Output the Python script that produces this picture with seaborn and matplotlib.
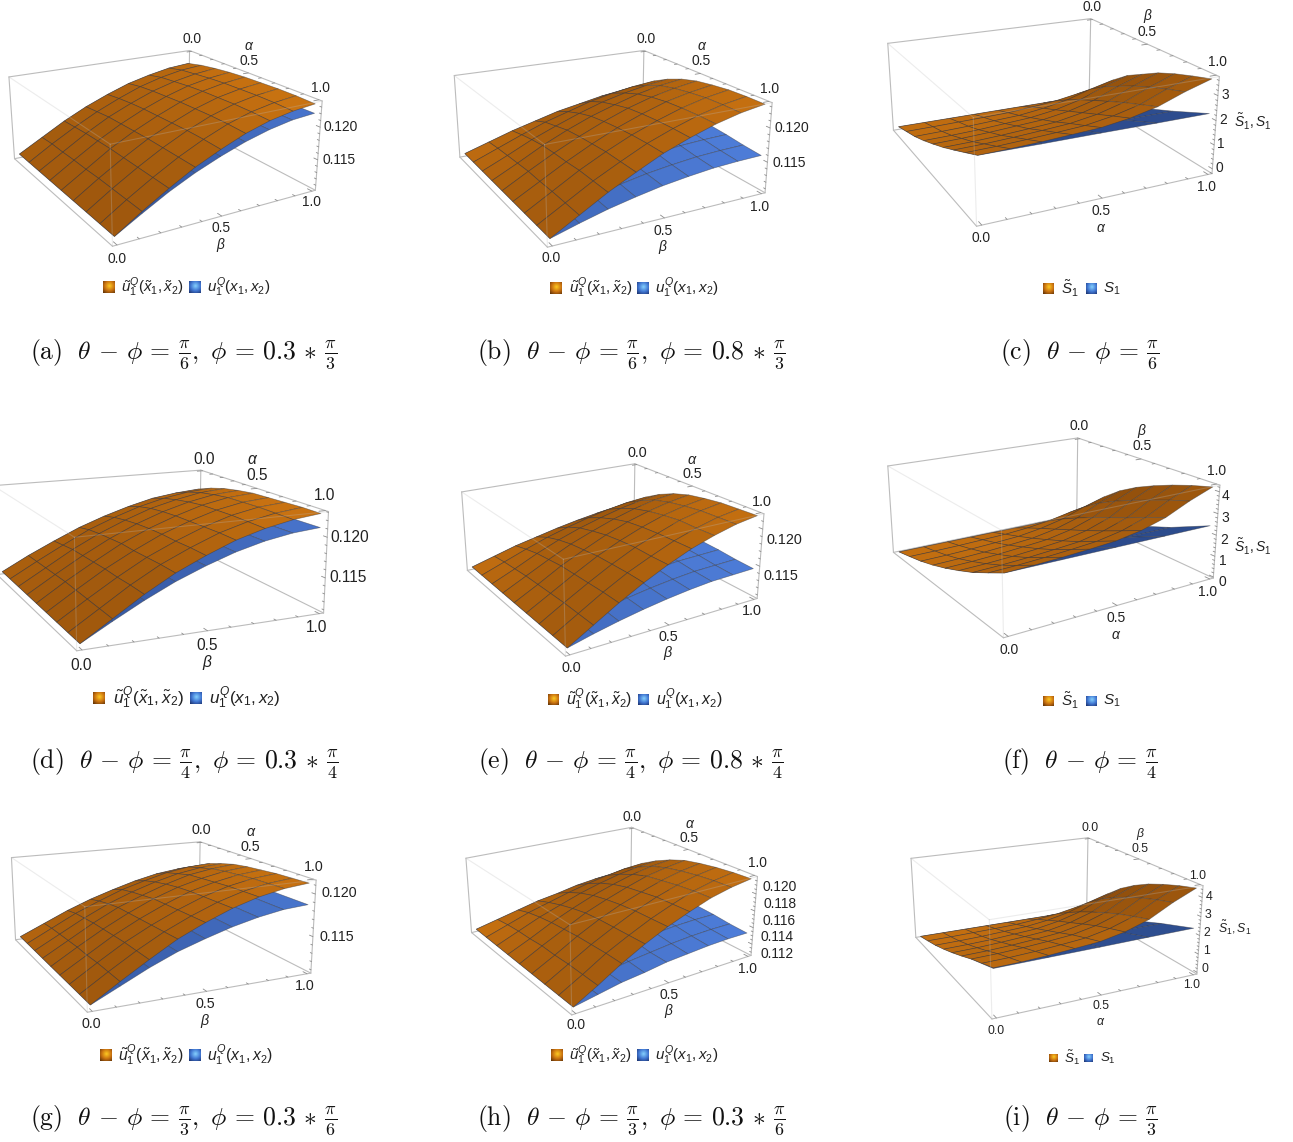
import numpy as np
import matplotlib
matplotlib.use("Agg")
import matplotlib.pyplot as plt
import seaborn as sns

W, H = 1293, 1142

# grid of the two parameters
GRID9 = [0, 0.125, 0.25, 0.375, 0.5, 0.625, 0.75, 0.875, 1]
GRID5 = [0, 0.25, 0.5, 0.75, 1]
GRID3 = [0, 0.5, 1]

# payoffs in units of 1e-4, one row per value of beta
A_ORANGE = [
    [1111, 1111, 1111, 1111, 1111, 1111, 1111, 1111, 1111],
    [1132, 1134, 1134, 1135, 1135, 1136, 1136, 1136, 1136],
    [1153, 1155, 1157, 1158, 1159, 1159, 1159, 1159, 1159],
    [1171, 1174, 1177, 1178, 1179, 1180, 1180, 1180, 1180],
    [1186, 1190, 1193, 1195, 1196, 1197, 1198, 1198, 1197],
    [1199, 1204, 1207, 1209, 1211, 1212, 1213, 1213, 1212],
    [1208, 1214, 1217, 1220, 1222, 1223, 1224, 1224, 1223],
    [1215, 1221, 1224, 1227, 1229, 1230, 1231, 1231, 1230],
    [1218, 1224, 1228, 1231, 1233, 1234, 1235, 1235, 1234],
]
A_BLUE = [
    [1111, 1111, 1111], [1132, 1133, 1133], [1153, 1153, 1154],
    [1171, 1171, 1172], [1186, 1187, 1187], [1199, 1200, 1200],
    [1208, 1209, 1210], [1215, 1216, 1217], [1218, 1219, 1220],
]
B_ORANGE = [
    [1111, 1111, 1111, 1111, 1111, 1111, 1111, 1111, 1111],
    [1123, 1126, 1128, 1130, 1132, 1132, 1133, 1133, 1133],
    [1135, 1141, 1146, 1150, 1152, 1153, 1155, 1155, 1155],
    [1145, 1155, 1161, 1167, 1170, 1172, 1174, 1174, 1174],
    [1155, 1166, 1175, 1182, 1186, 1189, 1191, 1192, 1192],
    [1162, 1177, 1187, 1194, 1200, 1203, 1205, 1206, 1206],
    [1169, 1185, 1196, 1205, 1211, 1215, 1217, 1218, 1218],
    [1174, 1191, 1203, 1213, 1219, 1223, 1226, 1227, 1227],
    [1177, 1195, 1208, 1218, 1225, 1229, 1232, 1233, 1233],
]
B_BLUE = [
    [1111, 1111, 1111, 1111, 1111, 1111, 1111, 1111, 1111],
    [1123, 1126, 1125, 1125, 1124, 1124, 1123, 1123, 1122],
    [1135, 1139, 1138, 1137, 1136, 1135, 1134, 1133, 1132],
    [1145, 1150, 1149, 1148, 1146, 1145, 1143, 1142, 1140],
    [1155, 1159, 1158, 1156, 1154, 1152, 1151, 1149, 1147],
    [1162, 1166, 1164, 1163, 1160, 1158, 1157, 1154, 1152],
    [1169, 1171, 1169, 1167, 1165, 1163, 1161, 1158, 1156],
    [1174, 1174, 1172, 1170, 1167, 1165, 1163, 1160, 1158],
    [1177, 1175, 1173, 1171, 1168, 1166, 1164, 1161, 1159],
]
D_ORANGE = [
    [1111, 1111, 1111, 1111, 1111, 1111, 1111, 1111, 1111],
    [1130, 1131, 1132, 1133, 1134, 1134, 1134, 1134, 1134],
    [1147, 1150, 1153, 1154, 1155, 1156, 1156, 1157, 1157],
    [1163, 1168, 1171, 1173, 1175, 1175, 1176, 1177, 1177],
    [1176, 1182, 1186, 1189, 1191, 1192, 1192, 1193, 1193],
    [1187, 1194, 1199, 1202, 1204, 1205, 1206, 1207, 1207],
    [1196, 1203, 1208, 1212, 1215, 1216, 1217, 1217, 1217],
    [1201, 1209, 1215, 1219, 1222, 1223, 1224, 1224, 1224],
    [1204, 1212, 1218, 1222, 1225, 1226, 1227, 1228, 1228],
]
D_BLUE = [
    [1111, 1111, 1111], [1130, 1130, 1131], [1147, 1149, 1150],
    [1163, 1165, 1167], [1176, 1179, 1181], [1187, 1191, 1193],
    [1196, 1199, 1202], [1201, 1205, 1208], [1204, 1208, 1211],
]
E_ORANGE = [
    [1111, 1111, 1111, 1111, 1111, 1111, 1111, 1111, 1111],
    [1120, 1123, 1125, 1127, 1128, 1129, 1130, 1130, 1130],
    [1129, 1135, 1140, 1143, 1146, 1147, 1148, 1149, 1149],
    [1136, 1146, 1153, 1158, 1161, 1164, 1165, 1166, 1166],
    [1143, 1155, 1164, 1170, 1175, 1178, 1180, 1180, 1181],
    [1149, 1163, 1173, 1181, 1187, 1190, 1192, 1193, 1194],
    [1154, 1170, 1181, 1190, 1196, 1200, 1203, 1203, 1204],
    [1158, 1175, 1187, 1197, 1203, 1207, 1210, 1211, 1212],
    [1160, 1178, 1191, 1201, 1208, 1212, 1215, 1216, 1217],
]
E_BLUE = [
    [1111, 1111, 1111, 1111, 1111, 1111, 1111, 1111, 1111],
    [1120, 1122, 1121, 1121, 1120, 1120, 1120, 1119, 1119],
    [1129, 1132, 1131, 1130, 1129, 1128, 1128, 1127, 1126],
    [1136, 1140, 1138, 1137, 1136, 1135, 1134, 1133, 1132],
    [1143, 1146, 1145, 1143, 1142, 1140, 1140, 1138, 1137],
    [1149, 1151, 1150, 1148, 1146, 1145, 1144, 1142, 1141],
    [1154, 1155, 1153, 1151, 1150, 1148, 1147, 1145, 1144],
    [1158, 1157, 1155, 1153, 1151, 1149, 1148, 1146, 1145],
    [1160, 1158, 1156, 1154, 1152, 1150, 1149, 1147, 1146],
]
G_ORANGE = [
    [1111, 1111, 1111, 1111, 1111, 1111, 1111, 1111, 1111],
    [1125, 1127, 1128, 1129, 1130, 1130, 1131, 1131, 1131],
    [1139, 1143, 1145, 1147, 1148, 1149, 1150, 1150, 1150],
    [1151, 1156, 1160, 1163, 1164, 1165, 1166, 1167, 1168],
    [1161, 1168, 1172, 1175, 1178, 1179, 1180, 1181, 1182],
    [1170, 1177, 1182, 1186, 1189, 1191, 1192, 1193, 1194],
    [1177, 1185, 1190, 1195, 1197, 1199, 1201, 1202, 1203],
    [1181, 1190, 1195, 1200, 1203, 1205, 1207, 1208, 1209],
    [1183, 1192, 1198, 1203, 1206, 1208, 1210, 1211, 1212],
]
G_BLUE = [
    [1111, 1111, 1111], [1125, 1126, 1126], [1139, 1140, 1141],
    [1151, 1153, 1154], [1161, 1164, 1164], [1170, 1173, 1173],
    [1177, 1179, 1180], [1181, 1184, 1185], [1183, 1186, 1187],
]
H_ORANGE = [
    [1111, 1111, 1111, 1111, 1111, 1111, 1111, 1111, 1111],
    [1117, 1120, 1122, 1123, 1125, 1125, 1126, 1126, 1126],
    [1123, 1129, 1133, 1136, 1138, 1140, 1141, 1142, 1142],
    [1129, 1136, 1142, 1147, 1151, 1153, 1154, 1155, 1156],
    [1133, 1143, 1151, 1157, 1161, 1164, 1166, 1167, 1168],
    [1138, 1149, 1158, 1165, 1170, 1173, 1176, 1177, 1178],
    [1141, 1154, 1164, 1172, 1178, 1181, 1184, 1186, 1187],
    [1143, 1158, 1168, 1177, 1183, 1187, 1190, 1192, 1193],
    [1145, 1160, 1171, 1180, 1187, 1191, 1194, 1196, 1197],
]
H_BLUE = [
    [1111, 1111, 1111, 1111, 1111, 1111, 1111, 1111, 1111],
    [1117, 1118, 1118, 1118, 1117, 1117, 1117, 1116, 1116],
    [1123, 1125, 1125, 1124, 1123, 1122, 1122, 1121, 1121],
    [1129, 1131, 1130, 1129, 1128, 1127, 1126, 1125, 1124],
    [1133, 1135, 1134, 1133, 1132, 1131, 1130, 1128, 1128],
    [1138, 1139, 1138, 1136, 1135, 1133, 1133, 1131, 1130],
    [1141, 1141, 1140, 1138, 1137, 1135, 1135, 1133, 1132],
    [1143, 1142, 1141, 1139, 1138, 1136, 1136, 1134, 1133],
    [1145, 1143, 1142, 1140, 1139, 1137, 1136, 1134, 1133],
]

# entropies, one row per value of alpha, one column per value of beta
C_ORANGE = [
    [0, 0.20, 0.40, 0.65, 0.95, 1.25, 1.60, 1.95, 2.31],
    [0, 0.21, 0.42, 0.67, 0.97, 1.27, 1.62, 1.97, 2.33],
    [0, 0.23, 0.45, 0.71, 1.02, 1.32, 1.67, 2.02, 2.37],
    [0, 0.25, 0.50, 0.78, 1.09, 1.39, 1.74, 2.08, 2.43],
    [0, 0.28, 0.55, 0.85, 1.16, 1.47, 1.82, 2.15, 2.49],
    [0, 0.36, 0.69, 1.01, 1.34, 1.67, 2.00, 2.33, 2.65],
    [0, 0.47, 0.90, 1.28, 1.63, 1.97, 2.30, 2.60, 2.90],
    [0, 0.65, 1.23, 1.70, 2.08, 2.45, 2.76, 3.04, 3.30],
    [0, 0.80, 1.50, 2.05, 2.45, 2.85, 3.15, 3.40, 3.63],
]
C_BLUE = [
    [0, 0.40, 0.95, 1.60, 2.31], [0, 0.40, 0.94, 1.59, 2.29],
    [0, 0.40, 0.94, 1.58, 2.28], [0, 0.39, 0.93, 1.57, 2.26],
    [0, 0.39, 0.92, 1.56, 2.25],
]
F_ORANGE = [
    [0, 0.18, 0.38, 0.62, 0.92, 1.25, 1.62, 2.05, 2.50],
    [0, 0.19, 0.40, 0.65, 0.95, 1.28, 1.65, 2.08, 2.53],
    [0, 0.21, 0.44, 0.70, 1.01, 1.34, 1.71, 2.14, 2.58],
    [0, 0.25, 0.50, 0.78, 1.10, 1.43, 1.80, 2.22, 2.65],
    [0, 0.29, 0.57, 0.87, 1.20, 1.54, 1.90, 2.32, 2.74],
    [0, 0.38, 0.74, 1.08, 1.43, 1.78, 2.15, 2.54, 2.94],
    [0, 0.53, 1.00, 1.42, 1.81, 2.17, 2.53, 2.91, 3.27],
    [0, 0.76, 1.41, 1.96, 2.41, 2.79, 3.14, 3.48, 3.78],
    [0, 0.95, 1.75, 2.40, 2.90, 3.30, 3.65, 3.95, 4.20],
]
F_BLUE = [
    [0, 0.38, 0.92, 1.62, 2.50], [0, 0.38, 0.92, 1.61, 2.48],
    [0, 0.37, 0.91, 1.60, 2.46], [0, 0.37, 0.91, 1.59, 2.44],
    [0, 0.37, 0.90, 1.58, 2.42],
]
I_ORANGE = [
    [0, 0.20, 0.42, 0.68, 0.98, 1.30, 1.65, 1.95, 2.25],
    [0, 0.21, 0.44, 0.71, 1.01, 1.33, 1.68, 1.98, 2.28],
    [0, 0.24, 0.48, 0.76, 1.08, 1.40, 1.75, 2.05, 2.35],
    [0, 0.27, 0.55, 0.85, 1.17, 1.50, 1.85, 2.15, 2.45],
    [0, 0.31, 0.62, 0.94, 1.28, 1.62, 1.97, 2.27, 2.56],
    [0, 0.41, 0.79, 1.17, 1.53, 1.89, 2.24, 2.54, 2.82],
    [0, 0.56, 1.06, 1.52, 1.93, 2.31, 2.66, 2.96, 3.24],
    [0, 0.80, 1.49, 2.08, 2.57, 2.99, 3.34, 3.64, 3.90],
    [0, 1.00, 1.85, 2.55, 3.10, 3.55, 3.90, 4.20, 4.45],
]
I_BLUE = [
    [0, 0.42, 0.98, 1.65, 2.22], [0, 0.42, 0.99, 1.66, 2.25],
    [0, 0.43, 1.00, 1.68, 2.28], [0, 0.43, 1.01, 1.70, 2.32],
    [0, 0.44, 1.02, 1.72, 2.35],
]

U_NAMES = [r"$\tilde{u}_1^{Q}(\tilde{x}_1,\tilde{x}_2)$", r"$u_1^{Q}(x_1,x_2)$"]
S_NAMES = [r"$\tilde{S}_1$", r"$S_1$"]
CAPTIONS = {
    "a": r"$\mathrm{(a)}\ \ \theta\,-\,\phi\,=\,\frac{\pi}{6},\ \phi\,=\,0.3\,*\,\frac{\pi}{3}$",
    "b": r"$\mathrm{(b)}\ \ \theta\,-\,\phi\,=\,\frac{\pi}{6},\ \phi\,=\,0.8\,*\,\frac{\pi}{3}$",
    "c": r"$\mathrm{(c)}\ \ \theta\,-\,\phi\,=\,\frac{\pi}{6}$",
    "d": r"$\mathrm{(d)}\ \ \theta\,-\,\phi\,=\,\frac{\pi}{4},\ \phi\,=\,0.3\,*\,\frac{\pi}{4}$",
    "e": r"$\mathrm{(e)}\ \ \theta\,-\,\phi\,=\,\frac{\pi}{4},\ \phi\,=\,0.8\,*\,\frac{\pi}{4}$",
    "f": r"$\mathrm{(f)}\ \ \theta\,-\,\phi\,=\,\frac{\pi}{4}$",
    "g": r"$\mathrm{(g)}\ \ \theta\,-\,\phi\,=\,\frac{\pi}{3},\ \phi\,=\,0.3\,*\,\frac{\pi}{6}$",
    "h": r"$\mathrm{(h)}\ \ \theta\,-\,\phi\,=\,\frac{\pi}{3},\ \phi\,=\,0.3\,*\,\frac{\pi}{6}$",
    "i": r"$\mathrm{(i)}\ \ \theta\,-\,\phi\,=\,\frac{\pi}{3}$",
}

# view = elev, azim, focal length, x and y box aspect; rect = left, bottom, side in pixels
PANELS = [
    dict(key="a", orange=A_ORANGE, blue=A_BLUE, names=U_NAMES, view=(19.90, -30.67, 0.443, 2.498, 2.441),
         rect=(-6.8, 296.2, 320.0), zlim=(1102, 1239), zmajor=[1150, 1200], zstep=10, size=9.9,
         ticks=[("0.0", 192, 39), (r"$\alpha$", 249, 46), ("0.5", 249, 61), ("1.0", 320, 88), ("0.120", 341, 127),
                ("0.115", 339, 160), ("0.0", 117, 259), ("0.5", 221, 228), (r"$\beta$", 221, 245), ("1.0", 311, 202)],
         legend=(287, 103, 121, 189, 207), swatch=11.5, caption=(184, 354)),
    dict(key="b", orange=B_ORANGE, blue=B_BLUE, names=U_NAMES, view=(19.86, -28.29, 0.431, 2.512, 2.520),
         rect=(436.2, 299.7, 326.6), zlim=(1104, 1236), zmajor=[1150, 1200], zstep=10, size=10,
         ticks=[("0.0", 646, 39), (r"$\alpha$", 702, 46), ("0.5", 701, 61), ("1.0", 770, 89), ("0.120", 792, 128),
                ("0.115", 789, 163), ("0.0", 551, 258), ("0.5", 663, 231), (r"$\beta$", 663, 247), ("1.0", 760, 207)],
         legend=(288, 550, 569, 637, 655), swatch=11.5, caption=(631, 354)),
    dict(key="c", orange=C_ORANGE, blue=C_BLUE, names=S_NAMES, view=(19.94, -25.96, 0.448, 2.490, 2.480),
         rect=(865.3, 283.2, 345.8), zlim=(-0.2, 3.75), zmajor=[0, 1, 2, 3], zstep=0.2, size=9.9,
         ticks=[("0.0", 1092, 7), (r"$\beta$", 1148, 16), ("0.5", 1147, 32), ("1.0", 1217, 62), ("3", 1225, 95),
                ("2", 1223, 120), ("1", 1221, 144), ("0", 1219, 168), (r"$\tilde{S}_1,S_1$", 1253, 122),
                (r"$\alpha$", 1101, 228), ("0.5", 1101, 211), ("1.0", 1206, 187), ("0.0", 981, 238)],
         legend=(289, 1043, 1061, 1086, 1103), swatch=11, caption=(1080, 354)),
    dict(key="d", orange=D_ORANGE, blue=D_BLUE, names=U_NAMES, view=(14.06, -24.09, 0.474, 2.616, 2.524),
         rect=(-34.6, 729.2, 357.4), zlim=(1106, 1231), zmajor=[1150, 1200], zstep=10, size=11.2,
         ticks=[("0.0", 204, 460), (r"$\alpha$", 253, 460), ("0.5", 257, 475), ("1.0", 325, 496), ("0.120", 350, 537),
                ("0.115", 348, 578), ("0.0", 81, 665), ("0.5", 207, 645), (r"$\beta$", 207, 662), ("1.0", 317, 627)],
         legend=(698, 93, 113, 190, 209), swatch=12, caption=(184, 764)),
    dict(key="e", orange=E_ORANGE, blue=E_BLUE, names=U_NAMES, view=(20.91, -31.89, 0.445, 2.474, 2.450),
         rect=(448.5, 701.4, 306.6), zlim=(1105, 1220), zmajor=[1150, 1200], zstep=10, size=10.4,
         ticks=[("0.0", 637, 453), (r"$\alpha$", 692, 460), ("0.5", 692, 474), ("1.0", 762, 502), ("0.120", 784, 540),
                ("0.115", 781, 576), ("0.0", 571, 668), ("0.5", 668, 637), (r"$\beta$", 668, 653), ("1.0", 752, 611)],
         legend=(699, 548, 566, 638, 656), swatch=11, caption=(631, 764)),
    dict(key="f", orange=F_ORANGE, blue=F_BLUE, names=S_NAMES, view=(18.76, -32.68, 0.446, 2.481, 2.497),
         rect=(874.5, 693.2, 335.8), zlim=(-0.05, 4.3), zmajor=[0, 1, 2, 3, 4], zstep=0.2, size=10,
         ticks=[("0.0", 1079, 426), (r"$\beta$", 1142, 431), ("0.5", 1142, 446), ("1.0", 1217, 471), ("4", 1226, 496),
                ("3", 1225, 518), ("2", 1224, 540), ("1", 1223, 561), ("0", 1222, 582), (r"$\tilde{S}_1,S_1$", 1253, 547),
                ("0.5", 1116, 618), (r"$\alpha$", 1116, 635), ("1.0", 1208, 592), ("0.0", 1009, 650)],
         legend=(701, 1043, 1061, 1086, 1103), swatch=11, caption=(1080, 764)),
    dict(key="g", orange=G_ORANGE, blue=G_BLUE, names=U_NAMES, view=(15.24, -25.08, 0.443, 2.468, 2.492),
         rect=(-10.9, 1076.7, 320.0), zlim=(1106, 1216), zmajor=[1150, 1200], zstep=10, size=10.3,
         ticks=[("0.0", 201, 830), (r"$\alpha$", 251, 832), ("0.5", 250, 847), ("1.0", 314, 867), ("0.120", 339, 893),
                ("0.115", 337, 937), ("0.0", 91, 1024), ("0.5", 205, 1004), (r"$\beta$", 205, 1021), ("1.0", 305, 986)],
         legend=(1055, 100, 118, 189, 207), swatch=11.5, caption=(184, 1120)),
    dict(key="h", orange=H_ORANGE, blue=H_BLUE, names=U_NAMES, view=(21.94, -33.72, 0.460, 2.475, 2.501),
         rect=(456.0, 1056.6, 293.0), zlim=(1106, 1200), zmajor=[1120, 1140, 1160, 1180, 1200], zstep=5, size=9.9,
         ticks=[("0.0", 632, 817), (r"$\alpha$", 690, 824), ("0.5", 689, 838), ("1.0", 757, 863), ("0.120", 780, 887),
                ("0.118", 780, 904), ("0.116", 779, 921), ("0.114", 777, 937), ("0.112", 777, 954), ("0.0", 576, 1025),
                ("0.5", 669, 995), (r"$\beta$", 669, 1011), ("1.0", 747, 969)],
         legend=(1055, 551, 569, 637, 655), swatch=11.5, caption=(631, 1120)),
    dict(key="i", orange=I_ORANGE, blue=I_BLUE, names=S_NAMES, view=(18.91, -26.41, 0.454, 2.445, 2.398),
         rect=(890.9, 1070.5, 305.4), zlim=(-0.1, 4.6), zmajor=[0, 1, 2, 3, 4], zstep=0.2, size=8.8,
         ticks=[("0.0", 1090, 828), (r"$\beta$", 1141, 834), ("0.5", 1140, 849), ("1.0", 1198, 876), ("4", 1209, 897),
                ("3", 1208, 915), ("2", 1207, 933), ("1", 1206, 951), ("0", 1205, 969), (r"$\tilde{S}_1,S_1$", 1235, 928),
                ("0.5", 1101, 1006), (r"$\alpha$", 1101, 1022), ("1.0", 1192, 985), ("0.0", 996, 1031)],
         legend=(1058, 1049, 1064, 1084, 1100), swatch=9, caption=(1080, 1120)),
]

sns.set_theme(style="white")
plt.rcParams["font.family"] = ["Liberation Sans", "DejaVu Sans"]
plt.rcParams["mathtext.fontset"] = "custom"
plt.rcParams["mathtext.rm"] = "Liberation Sans"
plt.rcParams["mathtext.it"] = "Liberation Sans:italic"
plt.rcParams["mathtext.bf"] = "Liberation Sans:bold"

ORANGE_SHADES = sns.blend_palette(["#8f4e0c", "#d87c12"], as_cmap=True)
BLUE_SHADES = sns.blend_palette(["#2a4788", "#4f7fdc"], as_cmap=True)
BLUE_DARK = sns.blend_palette(["#24407c", "#35589f"], as_cmap=True)
ORANGE_SWATCH = sns.blend_palette(["#4a2606", "#c87010", "#ffcb22"], as_cmap=True)
BLUE_SWATCH = sns.blend_palette(["#16265a", "#3f74d0", "#86d2ff"], as_cmap=True)
LIGHT = np.array([0.5, 0.3, 0.81])
BOX = "#bcbcbc"
TEXT = "#222222"
PAD = 0.02

fig = plt.figure(figsize=(W / 100, H / 100), dpi=100)
fig.patch.set_facecolor("white")


def draw_surface(ax, rows, cmap, zlim, aspect, order):
    q = GRID9 if len(rows) == 9 else GRID5
    p = {9: GRID9, 5: GRID5, 3: GRID3}[len(rows[0])]
    P, Q = np.meshgrid(p, q)
    Z = np.array(rows, dtype=float)
    zn = (Z - zlim[0]) / (zlim[1] - zlim[0])
    # lighting has to use the box proportions, not the data units
    dp = np.gradient(zn, p, axis=1) / aspect[0]
    dq = np.gradient(zn, q, axis=0) / aspect[1]
    length = np.sqrt(dp ** 2 + dq ** 2 + 1)
    lit = (-dp * LIGHT[0] - dq * LIGHT[1] + LIGHT[2]) / length
    colors = cmap(np.clip((lit - 0.45) / 0.4, 0, 1))
    surf = ax.plot_surface(P, Q, Z, rcount=len(q), ccount=len(p), facecolors=colors, shade=False,
                           zorder=order, antialiased=True)
    surf.set_edgecolor((0.2, 0.2, 0.22, 0.5))
    surf.set_linewidth(0.5)
    surf.set_clip_on(False)


def draw_box(ax, zlim):
    x0, x1, y0, y1 = -PAD, 1 + PAD, -PAD, 1 + PAD
    z0, z1 = zlim
    back = [((x0, x0), (y1, y1), (z0, z1)), ((x0, x0), (y0, y1), (z1, z1)), ((x0, x1), (y1, y1), (z1, z1)),
            ((x0, x0), (y0, y1), (z0, z0)), ((x0, x1), (y1, y1), (z0, z0)), ((x0, x0), (y0, y0), (z0, z1)),
            ((x1, x1), (y1, y1), (z0, z1))]
    front = [((x0, x1), (y0, y0), (z1, z1)), ((x1, x1), (y0, y1), (z1, z1)), ((x1, x1), (y0, y0), (z0, z1))]
    bottom = [((x0, x1), (y0, y0), (z0, z0)), ((x1, x1), (y0, y1), (z0, z0))]
    for xs, ys, zs in back:
        ax.plot(xs, ys, zs, color=BOX, lw=0.8, zorder=1, clip_on=False)
    for xs, ys, zs in front:
        ax.plot(xs, ys, zs, color=BOX, lw=0.8, alpha=0.28, zorder=4, clip_on=False)
    for xs, ys, zs in bottom:
        ax.plot(xs, ys, zs, color=BOX, lw=0.8, zorder=4, clip_on=False)


def draw_ticks(ax, zlim, zmajor, zstep):
    x1, y1 = 1 + PAD, 1 + PAD
    z0, z1 = zlim
    for i in range(11):
        t = i / 10
        size = 0.03 if i % 5 == 0 else 0.016
        ax.plot((x1, x1 - size), (t, t), (z0, z0), color="#8c8c8c", lw=0.6, zorder=5, clip_on=False)
        ax.plot((t, t), (y1, y1 - size), (z1, z1), color="#8c8c8c", lw=0.6, zorder=5, clip_on=False)
    for t in np.arange(np.ceil(z0 / zstep) * zstep, z1, zstep):
        size = 0.025 if any(abs(t - m) < 1e-6 for m in zmajor) else 0.012
        ax.plot((x1, x1 - size), (y1, y1), (t, t), color="#8c8c8c", lw=0.6, zorder=5, clip_on=False)


def draw_swatch(x, y, side, cmap):
    sw = fig.add_axes([x / W, 1 - (y + side / 2) / H, side / W, side / H])
    u, v = np.meshgrid(np.linspace(0, 1, 24), np.linspace(0, 1, 24))
    sw.imshow(1 - 1.15 * np.hypot(u - 0.55, v - 0.4), cmap=cmap, vmin=0, vmax=1, interpolation="bilinear", aspect="auto")
    sw.set_axis_off()


for panel in PANELS:
    left, vb, side = panel["rect"]
    ax = fig.add_axes([left / W, 1 - vb / H, side / W, side / H], projection="3d")
    elev, azim, focal, ax_x, ax_y = panel["view"]
    ax.view_init(elev=elev, azim=azim)
    ax.set_proj_type("persp", focal_length=focal)
    ax.set_box_aspect((ax_x, ax_y, 1))
    ax.set_axis_off()
    ax.computed_zorder = False

    draw_box(ax, panel["zlim"])
    blue_map = BLUE_DARK if panel["names"] is S_NAMES else BLUE_SHADES
    draw_surface(ax, panel["blue"], blue_map, panel["zlim"], (ax_x, ax_y), 2)
    draw_surface(ax, panel["orange"], ORANGE_SHADES, panel["zlim"], (ax_x, ax_y), 3)
    draw_ticks(ax, panel["zlim"], panel["zmajor"], panel["zstep"])
    ax.set_xlim(-PAD, 1 + PAD)
    ax.set_ylim(-PAD, 1 + PAD)
    ax.set_zlim(*panel["zlim"])

    for label, x, y in panel["ticks"]:
        fig.text(x / W, 1 - y / H, label, ha="center", va="center", fontsize=panel["size"], color=TEXT)

    y, sw1, tx1, sw2, tx2 = panel["legend"]
    draw_swatch(sw1, y, panel["swatch"], ORANGE_SWATCH)
    draw_swatch(sw2, y, panel["swatch"], BLUE_SWATCH)
    fig.text(tx1 / W, 1 - y / H, panel["names"][0], ha="left", va="center", fontsize=panel["size"] * 1.1, color=TEXT)
    fig.text(tx2 / W, 1 - y / H, panel["names"][1], ha="left", va="center", fontsize=panel["size"] * 1.1, color=TEXT)

    cx, cy = panel["caption"]
    fig.text(cx / W, 1 - cy / H, CAPTIONS[panel["key"]], ha="center", va="center", fontsize=18.5,
             color="#111111", math_fontfamily="cm")

fig.savefig("out.png", dpi=100)
